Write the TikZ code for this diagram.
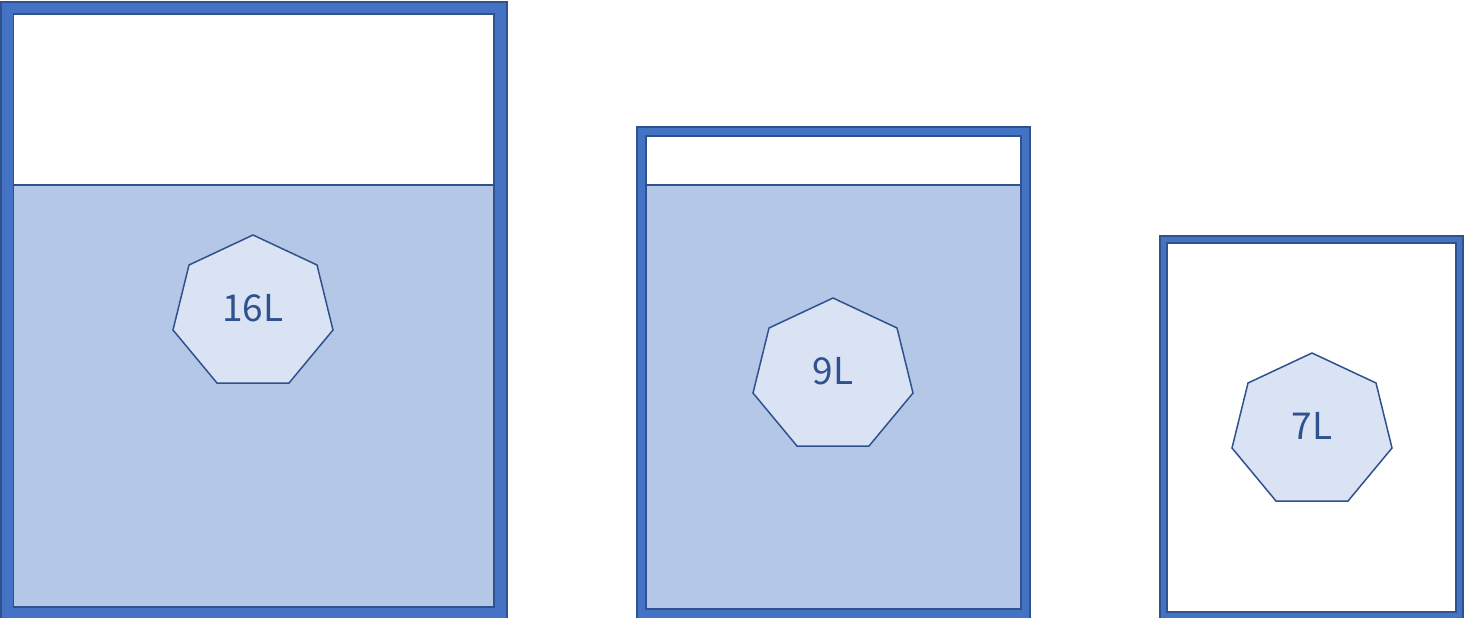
\documentclass[tikz,border=0pt]{standalone}
\usepackage{fontspec}
\newfontfamily\labelfont{Noto Sans CJK JP}
\definecolor{framefill}{HTML}{4472C4}
\definecolor{frameline}{HTML}{2F528F}
\definecolor{waterfill}{HTML}{B4C7E7}
\definecolor{heptfill}{HTML}{DAE3F3}
\tikzset{
  framebox/.style={fill=framefill, draw=frameline, line width=1.5pt},
  innerbox/.style={fill=white, draw=frameline, line width=1.5pt},
  waterbox/.style={fill=waterfill, draw=frameline, line width=1.5pt},
  heptbox/.style={fill=heptfill, draw=frameline, line width=1.5pt, line join=miter},
  vollabel/.style={text=frameline, font=\labelfont\fontsize{37}{39}\selectfont, inner sep=0pt},
}
\newcommand\heptagon[3]{% top x, top y, name
  \draw[heptbox] (#1,#2) -- ++(64,30) -- ++(16,65) -- ++(-44,53) -- ++(-72,0) -- ++(-44,-53) -- ++(16,-65) -- cycle;
}
\begin{document}
\begin{tikzpicture}[x=1pt,y=-1pt]
\useasboundingbox (0,0) rectangle (1464,618);
\clip (0,0) rectangle (1464,618);
% container 1
\draw[framebox] (1,2) rectangle (507,630);
\draw[innerbox] (13.5,14) rectangle (494,607);
\draw[waterbox] (13.5,185) rectangle (494,607);
\heptagon{253}{235}{h1}
\node[vollabel] (t1) at (253,308) {16L};
% container 2
\draw[framebox] (637,127) rectangle (1030,630);
\draw[innerbox] (646,136) rectangle (1021,609);
\draw[waterbox] (646,185) rectangle (1021,609);
\heptagon{833}{298}{h2}
\node[vollabel] (t2) at (833,371) {9L};
% container 3
\draw[framebox] (1160,236) rectangle (1463,630);
\draw[innerbox] (1167,243) rectangle (1456,612);
\heptagon{1312}{353}{h3}
\node[vollabel] (t3) at (1312,426) {7L};
\end{tikzpicture}
\end{document}
